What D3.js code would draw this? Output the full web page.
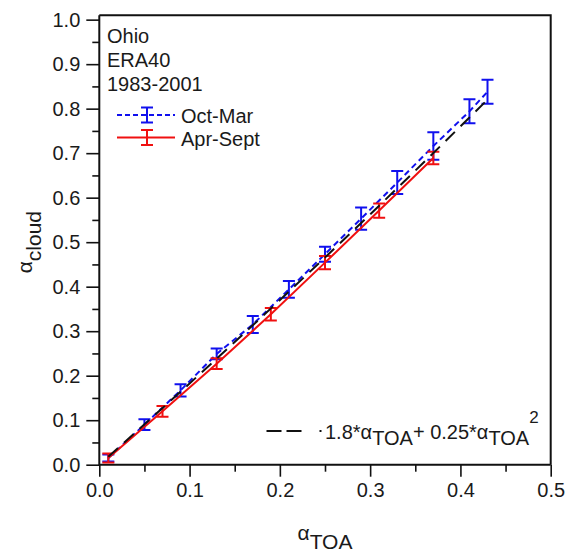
<!DOCTYPE html>
<html>
<head>
<meta charset="utf-8">
<script src="https://cdn.jsdelivr.net/npm/d3@7/dist/d3.min.js"></script>
<style>
  html, body { margin: 0; padding: 0; background: #fff; }
  svg { display: block; }
  text { font-family: "Liberation Sans", Arial, sans-serif; fill: #1a1a1a; }
</style>
</head>
<body>
<svg id="chart" width="567" height="553"></svg>
<script>
// Cloud albedo vs. top-of-atmosphere albedo, Ohio, ERA40 1983-2001
const octMarX   = [0.01, 0.05, 0.09, 0.13, 0.17, 0.21, 0.25, 0.29, 0.33, 0.37, 0.41, 0.43];
const octMarY   = [0.015, 0.090, 0.167, 0.249, 0.315, 0.394, 0.473, 0.553, 0.634, 0.716, 0.794, 0.838];
const octMarErr = [0.008, 0.012, 0.014, 0.012, 0.019, 0.019, 0.017, 0.025, 0.026, 0.031, 0.027, 0.027];

const aprSepX   = [0.01, 0.07, 0.13, 0.19, 0.25, 0.31, 0.37];
const aprSepY   = [0.015, 0.120, 0.227, 0.338, 0.454, 0.571, 0.689];
const aprSepErr = [0.010, 0.012, 0.012, 0.014, 0.015, 0.016, 0.014];

// Fitted relation: alpha_cloud = 1.8*alpha_TOA + 0.25*alpha_TOA^2
const fitCoef = [1.8, 0.25];
const fitX = [0.01, 0.05, 0.09, 0.13, 0.17, 0.21, 0.25, 0.29, 0.33, 0.37, 0.41, 0.43];

const xTicks = [0.0, 0.1, 0.2, 0.3, 0.4, 0.5];
const yTicks = [0.0, 0.1, 0.2, 0.3, 0.4, 0.5, 0.6, 0.7, 0.8, 0.9, 1.0];
const xMinor = [0.05, 0.15, 0.25, 0.35, 0.45];
const yMinor = [0.05, 0.15, 0.25, 0.35, 0.45, 0.55, 0.65, 0.75, 0.85, 0.95];
const xLimit = [0, 0.5];
const yLimit = [0, 1.01];

const W = 567, H = 553;
const margin = { left: 99.3, right: 16.3, top: 15.2, bottom: 88.3 };
const svg = d3.select("#chart");

const x = d3.scaleLinear().domain(xLimit).range([margin.left, W - margin.right]);
const y = d3.scaleLinear().domain(yLimit).range([H - margin.bottom, margin.top]);

const fontSize = 20;

// Frame: top and right borders
svg.append("path")
  .attr("d", `M${x(xLimit[0])},${y(yLimit[1])}H${x(xLimit[1])}V${y(yLimit[0])}`)
  .attr("fill", "none").attr("stroke", "#111").attr("stroke-width", 2);

// Axes
const xAxis = svg.append("g").attr("transform", `translate(0,${y(0)})`)
  .call(d3.axisBottom(x).tickValues(xTicks).tickFormat(d3.format(".1f")).tickSize(12).tickPadding(6));
const xAxisMinor = svg.append("g").attr("transform", `translate(0,${y(0)})`)
  .call(d3.axisBottom(x).tickValues(xMinor).tickFormat("").tickSize(7));
const yAxis = svg.append("g").attr("transform", `translate(${x(0)},0)`)
  .call(d3.axisLeft(y).tickValues(yTicks).tickFormat(d3.format(".1f")).tickSize(13).tickPadding(6));
const yAxisMinor = svg.append("g").attr("transform", `translate(${x(0)},0)`)
  .call(d3.axisLeft(y).tickValues(yMinor).tickFormat("").tickSize(7));

[xAxis, xAxisMinor, yAxis, yAxisMinor].forEach(g => {
  g.select(".domain").remove();
  g.selectAll(".tick line").attr("stroke", "#111").attr("stroke-width", 1.6);
  g.selectAll(".tick text").attr("font-size", fontSize).attr("fill", "#1a1a1a")
    .style("font-family", "'Liberation Sans', Arial, sans-serif");
});
svg.append("path")
  .attr("d", `M${x(xLimit[0])},${y(yLimit[1])}V${y(0)}H${x(xLimit[1])}`)
  .attr("fill", "none").attr("stroke", "#111").attr("stroke-width", 2);

// Series drawing
const line = d3.line().x(d => x(d[0])).y(d => y(d[1]));
const capW = 6;

function drawSeries(xs, ys, errs, color, dash) {
  const pts = xs.map((v, i) => [v, ys[i]]);
  svg.append("path").datum(pts)
    .attr("d", line).attr("fill", "none")
    .attr("stroke", color).attr("stroke-width", 2)
    .attr("stroke-dasharray", dash);
  const g = svg.append("g").attr("stroke", color).attr("stroke-width", 2).attr("fill", "none");
  xs.forEach((v, i) => {
    const cx = x(v), y1 = y(ys[i] + errs[i]), y0 = y(ys[i] - errs[i]);
    g.append("path").attr("d",
      `M${cx},${y0}V${y1}M${cx - capW},${y1}H${cx + capW}M${cx - capW},${y0}H${cx + capW}`);
  });
}

drawSeries(octMarX, octMarY, octMarErr, "#1010ee", "6,4");
drawSeries(aprSepX, aprSepY, aprSepErr, "#f01010", null);

// Fitted curve
const fitPts = fitX.map(v => [v, fitCoef[0] * v + fitCoef[1] * v * v]);
svg.append("path").datum(fitPts)
  .attr("d", line).attr("fill", "none")
  .attr("stroke", "#111").attr("stroke-width", 2)
  .attr("stroke-dasharray", "13,8");

// Annotation block
const info = ["Ohio", "ERA40", "1983-2001"];
info.forEach((t, i) => {
  svg.append("text").attr("x", 107).attr("y", 43 + i * 23.8)
    .attr("font-size", fontSize).text(t);
});

// Legend
const legend = [
  { label: "Oct-Mar", color: "#1010ee", dash: "5,3", ly: 115 },
  { label: "Apr-Sept", color: "#f01010", dash: null, ly: 137.5 }
];
legend.forEach(l => {
  svg.append("line").attr("x1", 117).attr("x2", 175).attr("y1", l.ly).attr("y2", l.ly)
    .attr("stroke", l.color).attr("stroke-width", 2).attr("stroke-dasharray", l.dash);
  svg.append("path")
    .attr("d", `M147,${l.ly - 7.5}V${l.ly + 7.5}M${147 - capW},${l.ly - 7.5}H${147 + capW}M${147 - capW},${l.ly + 7.5}H${147 + capW}`)
    .attr("stroke", l.color).attr("stroke-width", 2).attr("fill", "none");
  svg.append("text").attr("x", 181).attr("y", l.ly + 8).attr("font-size", fontSize).text(l.label);
});

// Fit legend
svg.append("line").attr("x1", 266.5).attr("x2", 322).attr("y1", 431).attr("y2", 431)
  .attr("stroke", "#111").attr("stroke-width", 2).attr("stroke-dasharray", "15,5,15,18,2,100");
const fitLabel = svg.append("text").attr("x", 325).attr("y", 438.5).attr("font-size", fontSize);
fitLabel.append("tspan").text("1.8*α");
fitLabel.append("tspan").attr("dy", 6).attr("font-size", fontSize).text("TOA");
fitLabel.append("tspan").attr("dy", -6).text("+ 0.25*α");
fitLabel.append("tspan").attr("dy", 6).text("TOA");
fitLabel.append("tspan").attr("dy", -22).attr("font-size", fontSize * 0.85).text("2");

// Axis titles
const xTitle = svg.append("text").attr("x", x(0.25)).attr("y", 540)
  .attr("text-anchor", "middle").attr("font-size", fontSize + 1);
xTitle.append("tspan").text("α");
xTitle.append("tspan").attr("dy", 9).text("TOA");

const yTitle = svg.append("text")
  .attr("transform", `translate(32,${y(0.5)}) rotate(-90)`)
  .attr("text-anchor", "middle").attr("font-size", fontSize + 1);
yTitle.append("tspan").text("α");
yTitle.append("tspan").attr("dy", 9).text("cloud");
</script>
</body>
</html>
